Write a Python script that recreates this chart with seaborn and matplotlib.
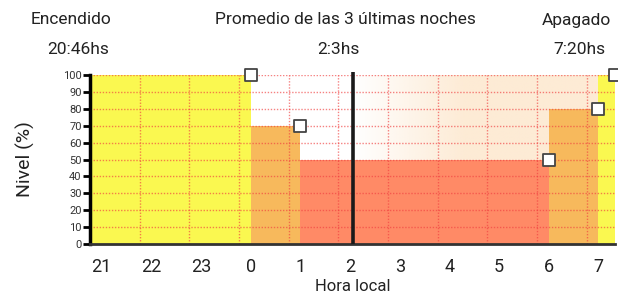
import numpy as np
import pandas as pd
import matplotlib
matplotlib.use("Agg")
import matplotlib.pyplot as plt
import seaborn as sns
from matplotlib.colors import to_rgb

# Data: night steps (decimal hours, 24+ = after midnight)
seg_start = [20 + 46 / 60, 24, 25, 30, 31]
seg_end = [24, 25, 30, 31, 31 + 20 / 60]
levels = [100, 70, 50, 80, 100]
seg_colors = ["#faf850", "#f7b95c", "#ff8a66", "#f7b95c", "#faf850"]

on_time = 20 + 46 / 60
off_time = 31 + 20 / 60
avg_time = 26 + 3 / 60

hour_ticks = list(range(21, 32))
hour_labels = ["21", "22", "23", "0", "1", "2", "3", "4", "5", "6", "7"]

sns.set_theme(style="white")
plt.rcParams["font.family"] = ["Roboto", "DejaVu Sans"]

fig = plt.figure(figsize=(6.18, 2.95), dpi=100)
ax = fig.add_axes([90 / 618, 51 / 295, 525 / 618, 169 / 295])

# peach gradient background after the average time
peach = np.array(to_rgb("#fdebd5"))
grad = np.zeros((2, 200, 4))
grad[..., :3] = peach
grad[..., 3] = np.clip(np.linspace(0, 1, 200) * 2.2, 0, 1)
ax.imshow(grad, extent=[avg_time, 31, 0, 100], aspect="auto", zorder=0,
          interpolation="bilinear")

# level steps
df = pd.DataFrame({"start": seg_start, "end": seg_end, "level": levels})
ax.bar(df["start"], df["level"], width=df["end"] - df["start"], align="edge",
       color=seg_colors, linewidth=0, zorder=1)

# grid (every hour from switch-on, every 10 %)
for k in range(1, 11):
    ax.axvline(on_time + k, color="#f04040", ls=(0, (1, 1.2)), lw=1,
               alpha=0.65, zorder=2)
for y in range(10, 101, 10):
    ax.axhline(y, color="#f04040", ls=(0, (1, 1.2)), lw=1, alpha=0.65, zorder=2)

# average line
ax.plot([avg_time, avg_time], [0, 102], color="#1a1a1a", lw=2.6, zorder=4,
        clip_on=False, solid_capstyle="butt")

# end-of-step markers
sns.scatterplot(x=df["end"], y=df["level"], marker="s", s=80, color="white",
                edgecolor="#444444", linewidth=1.3, zorder=5, ax=ax,
                clip_on=False)

ax.set_xlim(on_time, off_time)
ax.set_ylim(0, 100)
ax.set_xticks(hour_ticks)
ax.set_xticklabels(hour_labels, fontsize=13, color="#222222")
ax.set_yticks(range(0, 101, 10))
ax.set_yticklabels([str(v) for v in range(0, 101, 10)], fontsize=8,
                   color="#333333")
ax.tick_params(axis="x", length=0, pad=10)
ax.tick_params(axis="y", length=5, width=2, color="black", pad=1, left=True)
ax.set_xlabel("Hora local", fontsize=12, labelpad=2, color="#222222")
ax.set_ylabel("Nivel (%)", fontsize=14, labelpad=20, color="#222222")

for side in ["top", "right"]:
    ax.spines[side].set_visible(False)
ax.spines["left"].set_color("black")
ax.spines["left"].set_linewidth(2.5)
ax.spines["bottom"].set_color("#333333")
ax.spines["bottom"].set_linewidth(2)

# header texts
header = [
    (71, 20, "Encendido"), (78, 50, "20:46hs"),
    (345, 20, "Promedio de las 3 últimas noches"), (338, 50, "2:3hs"),
    (576, 20, "Apagado"), (579, 50, "7:20hs"),
]
for hx, hy, txt in header:
    fig.text(hx / 618, 1 - hy / 295, txt, ha="center", va="center",
             fontsize=12.5, color="#222222")

fig.savefig("out.png", dpi=100)
